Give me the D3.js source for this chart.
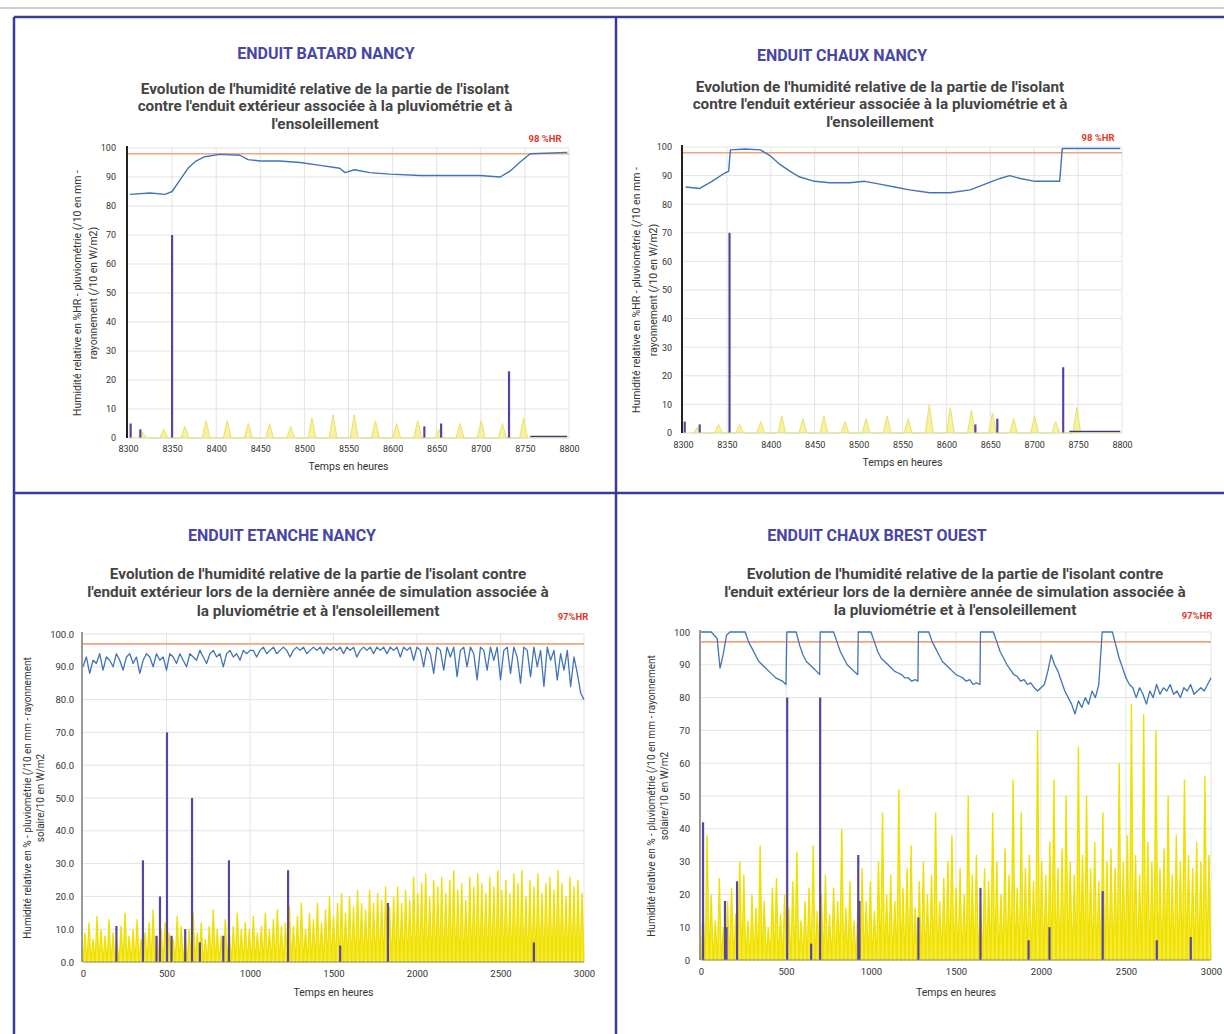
<!DOCTYPE html>
<html>
<head>
<meta charset="utf-8">
<script src="https://cdn.jsdelivr.net/npm/d3@7"></script>
<style>
  body { margin: 0; background: #fff; }
  svg { display: block; font-family: Roboto, "Liberation Sans", Arial, sans-serif; }
</style>
</head>
<body>
<svg id="chart" width="1224" height="1034"></svg>
<script>
// ---------- axis ticks ----------
const yTicks = [0, 10, 20, 30, 40, 50, 60, 70, 80, 90, 100];
const xTicksEnd = [8300, 8350, 8400, 8450, 8500, 8550, 8600, 8650, 8700, 8750, 8800];
const xTicksYear = [0, 500, 1000, 1500, 2000, 2500, 3000];

// ---------- ENDUIT BATARD NANCY (end of last year) ----------
// relative humidity [hour, %HR]
const batardHumidity = [[8302,84],[8325,84.5],[8342,84],[8350,85],[8359,89],[8368,93],[8377,95.5],[8387,97],
  [8404,97.8],[8427,97.5],[8436,96],[8450,95.5],[8472,95.5],[8495,95],[8518,94],[8540,93],[8546,91.5],
  [8557,92.5],[8574,91.5],[8597,91],[8631,90.5],[8665,90.5],[8699,90.5],[8722,90],[8733,92],[8744,95],
  [8756,98],[8798,98.5]];
// rainfall /10 [hour, value]
const batardRain = [[8303,5],[8314,3],[8350,70],[8636,4],[8655,5],[8732,23]];
// daily solar radiation peaks /10, from day 346
const batardSunPeaks = [2,3,4,6,6,5,5,4,7,8,8,6,5,6,3,5,6,5,7];
const batardTail = [[8756,0.5],[8798,0.5]];

// ---------- ENDUIT CHAUX NANCY (end of last year) ----------
const chauxHumidity = [[8303,86],[8319,85.5],[8333,88],[8348,91],[8352,91.5],[8354,99],[8371,99.3],[8388,99],
  [8399,97],[8410,94],[8422,91.5],[8433,89.5],[8450,88],[8467,87.5],[8490,87.5],[8507,88],[8524,87],
  [8541,86],[8558,85],[8581,84],[8604,84],[8627,85],[8644,87],[8661,89],[8672,90],[8684,89],[8701,88],
  [8729,88],[8732,99.5],[8798,99.5]];
const chauxRain = [[8302,4],[8319,3],[8353,70],[8633,3],[8658,5],[8733,23]];
const chauxSunPeaks = [2,3,3,4,6,5,6,4,5,6,5,10,9,8,7,5,6,4,9];
const chauxTail = [[8740,0.5],[8798,0.5]];

// ---------- ENDUIT ETANCHE NANCY (first 3000 h), humidity every 20 h ----------
const etancheHumidityStep = 20;
const etancheHumidity = [
  90,93,88,92,91,94,89,93,92,90, 94,92,89,93,94,91,93,88,92,94,
  93,90,94,92,93,89,94,93,91,94, 92,90,94,93,92,95,93,91,94,95,
  93,94,90,94,95,93,94,92,95,94, 95,
  95,93,95,96,94,95,96,94,95,96, 95,93,95,96,95,96,94,95,96,95,
  96,94,96,95,96,95,96,94,96,95, 96,93,95,96,95,96,94,96,95,96,
  94,96,95,96,93,96,95,96,92,96,
  95,90,96,94,88,96,95,89,96,93, 96,87,95,96,90,96,94,86,96,95,
  89,96,92,96,86,95,96,88,96,93, 85,96,95,87,96,90,95,84,96,92,
  95,86,94,89,95,84,93,88,82,80];
const etancheRain = [[200,11],[359,31],[440,8],[461,20],[503,70],[530,8],[612,10],[653,50],[700,6],
  [840,8],[874,31],[1228,28],[1540,5],[1826,18],[2700,6]];
const etancheSunPeaks = [
  9,12,7,14,10,8,13,9,6,11,15,8,10,13,7,9,12,16,8,10,
  12,9,7,14,11,8,10,15,9,12,7,11,16,10,8,13,9,11,15,10,
  12,10,14,9,11,15,10,13,16,11,12,17,11,14,18,10,15,13,18,12,
  16,20,14,18,21,15,20,17,22,18,16,22,18,21,19,23,17,20,23,18,
  22,19,26,21,24,27,20,25,23,26,21,25,28,22,24,19,26,23,27,24,
  21,26,23,28,22,25,21,27,24,28,20,25,23,27,21,24,26,22,28,24,20,26,23,25,21];

// ---------- ENDUIT CHAUX BREST OUEST (first 3000 h) ----------
const brestHumidity = [[0,100],[60,100],[95,98],[112,89],[130,93],[150,99],[170,100],[260,100],[280,97],
  [300,95],[320,93],[340,91],[360,90],[380,89],[400,88],[420,87],[440,86],[460,85.5],[480,85],[500,84],
  [505,100],[560,100],[580,96],[600,93],[620,91],[640,90],[660,89],[680,88],[698,87],[701,100],[780,100],
  [800,97],[820,94],[840,92],[860,90],[880,89],[900,88],[922,87],[925,100],[1000,100],[1020,97],[1040,94],
  [1060,92],[1080,91],[1100,90],[1120,89],[1140,88],[1160,87.5],[1180,87],[1200,86],[1220,86],[1240,85],
  [1260,85.5],[1276,85],[1279,100],[1340,100],[1360,97],[1380,95],[1400,93],[1420,91],[1440,90],[1460,89],
  [1480,88],[1500,87],[1520,86.5],[1540,86],[1560,85],[1580,85.5],[1600,84],[1620,84.5],[1641,84],
  [1644,100],[1720,100],[1740,97],[1760,94],[1780,92],[1800,90],[1820,88.5],[1840,87],[1860,86.5],
  [1880,85],[1900,85.5],[1920,84],[1940,84.5],[1960,83],[1980,82],[2000,83],[2020,84],[2040,88],[2060,93],
  [2080,90],[2100,88],[2120,85],[2140,82],[2160,80],[2180,78],[2200,75],[2220,79],[2240,77],[2260,80],
  [2280,78],[2300,82],[2320,80],[2340,84],[2360,100],[2420,100],[2440,96],[2460,92],[2480,89],[2500,86],
  [2520,84],[2540,83],[2560,80],[2580,83],[2600,81],[2620,78],[2640,82],[2660,80],[2680,84],[2700,81],
  [2720,83],[2740,82],[2760,84],[2780,81],[2800,82],[2820,80],[2840,83],[2860,82],[2880,84],[2900,81],
  [2920,82],[2940,83],[2960,82],[2980,84],[3000,86]];
const brestRain = [[12,42],[141,18],[150,10],[212,24],[507,80],[648,5],[701,80],[925,32],[932,18],
  [1279,13],[1644,22],[1927,6],[2050,10],[2363,21],[2681,6],[2881,7]];
const brestSunPeaks = [
  15,38,20,12,25,10,18,22,14,30, 26,12,20,16,35,18,10,22,25,14,
  20,16,24,33,12,18,22,35,15,20, 26,14,22,18,40,16,24,12,20,28,
  18,24,15,30,45,20,26,18,52,22, 28,35,16,24,30,20,26,45,18,25,
  30,38,22,28,20,50,26,32,18,28, 24,45,30,20,34,26,55,22,45,28,
  32,24,70,30,26,36,55,28,34,50, 30,26,65,32,50,28,36,24,45,30,
  34,28,60,30,38,78,32,26,75,36, 30,70,28,34,50,26,38,30,55,32,
  28,36,30,56,32];

const subtitleShort = ["Evolution de l'humidité relative de la partie de l'isolant",
  "contre l'enduit extérieur associée à la pluviométrie et à", "l'ensoleillement"];
const subtitleLong = ["Evolution de l'humidité relative de la partie de l'isolant contre",
  "l'enduit extérieur lors de la dernière année de simulation associée à",
  "la pluviométrie et à l'ensoleillement"];
const yLabelShort = ["Humidité relative en %HR - pluviométrie (/10 en mm -", "rayonnement (/10 en W/m2)"];
const yLabelLong = ["Humidité relative en % - pluviométrie (/10 en mm - rayonnement", "solaire/10 en W/m2"];

const svg = d3.select("#chart");

// page frame
svg.append("line").attr("x1", 0).attr("x2", 1224).attr("y1", 8).attr("y2", 8)
  .attr("stroke", "#cfcfcf").attr("stroke-width", 2);
const frame = svg.append("g").attr("stroke", "#3b3b96").attr("stroke-width", 2.5);
frame.append("line").attr("x1", 14).attr("x2", 1224).attr("y1", 17).attr("y2", 17);
frame.append("line").attr("x1", 14).attr("x2", 14).attr("y1", 17).attr("y2", 1034);
frame.append("line").attr("x1", 616).attr("x2", 616).attr("y1", 17).attr("y2", 1034);
frame.append("line").attr("x1", 14).attr("x2", 1224).attr("y1", 493).attr("y2", 493);

const panels = [
  { title: "ENDUIT BATARD NANCY", titleAt: [326, 53], sub: subtitleShort, subX: 325, subY: [89, 106, 124],
    box: { l: 128, r: 569, t: 148, b: 438 }, xDomain: [8300, 8800], xTicks: xTicksEnd, yFmt: d3.format("d"),
    humidity: batardHumidity, rain: batardRain, sunPeaks: batardSunPeaks, sunStartDay: 346, sunShape: [8, 12.5, 17],
    sunFill: "#f5f08e", sunStroke: "#e9e26a", sunWidth: 1, tail: batardTail, threshold: 98, thrLabel: "98 %HR",
    thrLabelAt: [545, 139], yLabel: yLabelShort, yLabelX: [77, 93], yLabelSize: 10.5, xTitleY: 466,
    yTickX: 116, xTickY: 451, tickSize: 9, strongAxis: true },
  { title: "ENDUIT CHAUX NANCY", titleAt: [842, 55], sub: subtitleShort, subX: 880, subY: [87, 104, 122],
    box: { l: 683, r: 1122, t: 147, b: 433 }, xDomain: [8300, 8800], xTicks: xTicksEnd, yFmt: d3.format("d"),
    humidity: chauxHumidity, rain: chauxRain, sunPeaks: chauxSunPeaks, sunStartDay: 346, sunShape: [8, 12.5, 17],
    sunFill: "#f5f08e", sunStroke: "#e9e26a", sunWidth: 1, tail: chauxTail, threshold: 98, thrLabel: "98 %HR",
    thrLabelAt: [1098, 138], yLabel: yLabelShort, yLabelX: [636, 653], yLabelSize: 10.5, xTitleY: 462,
    yTickX: 672, xTickY: 447, tickSize: 9, strongAxis: true },
  { title: "ENDUIT ETANCHE NANCY", titleAt: [282, 535], sub: subtitleLong, subX: 318, subY: [574, 592, 611],
    box: { l: 83, r: 584, t: 634, b: 962 }, xDomain: [0, 3000], xTicks: xTicksYear, yFmt: d3.format(".1f"),
    humidity: etancheHumidity.map((v, i) => [i * etancheHumidityStep, v]), rain: etancheRain,
    sunPeaks: etancheSunPeaks, sunStartDay: 0, sunShape: [1, 12, 23],
    sunFill: "#f4e71a", sunStroke: "#efe000", sunWidth: 1.4, tail: null, threshold: 97, thrLabel: "97%HR",
    thrLabelAt: [573, 617], yLabel: yLabelLong, yLabelX: [27, 40], yLabelSize: 10, xTitleY: 992,
    yTickX: 74, xTickY: 975, tickSize: 9.5, strongAxis: false },
  { title: "ENDUIT CHAUX BREST OUEST", titleAt: [877, 535], sub: subtitleLong, subX: 955, subY: [574, 592, 610],
    box: { l: 701, r: 1211, t: 632, b: 960 }, xDomain: [0, 3000], xTicks: xTicksYear, yFmt: d3.format("d"),
    humidity: brestHumidity, rain: brestRain, sunPeaks: brestSunPeaks, sunStartDay: 0, sunShape: [1, 12, 23],
    sunFill: "#f4e71a", sunStroke: "#efe000", sunWidth: 1.4, tail: null, threshold: 97, thrLabel: "97%HR",
    thrLabelAt: [1197, 616], yLabel: yLabelLong, yLabelX: [651, 664], yLabelSize: 10, xTitleY: 992,
    yTickX: 690, xTickY: 973, tickSize: 9.5, strongAxis: false }
];

function drawPanel(p) {
  const g = svg.append("g");
  const b = p.box;
  const x = d3.scaleLinear().domain(p.xDomain).range([b.l, b.r]);
  const y = d3.scaleLinear().domain([0, 100]).range([b.b, b.t]);

  // titles
  g.append("text").attr("x", p.titleAt[0]).attr("y", p.titleAt[1]).attr("dy", "0.35em")
    .attr("text-anchor", "middle").attr("font-size", 16).attr("font-weight", 700)
    .attr("fill", "#4646a6").text(p.title);
  g.selectAll(".sub").data(p.sub).join("text")
    .attr("x", p.subX).attr("y", (d, i) => p.subY[i]).attr("dy", "0.35em")
    .attr("text-anchor", "middle").attr("font-size", 15.3).attr("font-weight", 700)
    .attr("fill", "#444").text(d => d);

  // grid
  g.append("g").selectAll("line").data(yTicks.slice(1)).join("line")
    .attr("x1", b.l).attr("x2", b.r).attr("y1", d => y(d)).attr("y2", d => y(d))
    .attr("stroke", "#e3e3e3").attr("stroke-width", 1);
  g.append("g").selectAll("line").data(p.xTicks.slice(1)).join("line")
    .attr("x1", d => x(d)).attr("x2", d => x(d)).attr("y1", b.t).attr("y2", b.b)
    .attr("stroke", "#e3e3e3").attr("stroke-width", 1);

  // solar radiation: one bump per day
  const sunPts = [];
  p.sunPeaks.forEach((v, i) => {
    const day = 24 * (p.sunStartDay + i);
    sunPts.push([day + p.sunShape[0], 0], [day + p.sunShape[1], v], [day + p.sunShape[2], 0]);
  });
  const sunArea = d3.area().x(d => x(d[0])).y0(y(0)).y1(d => y(d[1]));
  const sunLine = d3.line().x(d => x(d[0])).y(d => y(d[1]));
  g.append("path").attr("d", sunArea(sunPts)).attr("fill", p.sunFill).attr("opacity", 0.85);
  g.append("path").attr("d", sunLine(sunPts)).attr("fill", "none")
    .attr("stroke", p.sunStroke).attr("stroke-width", p.sunWidth);

  // threshold
  g.append("line").attr("x1", b.l).attr("x2", b.r).attr("y1", y(p.threshold)).attr("y2", y(p.threshold))
    .attr("stroke", "#f2a57c").attr("stroke-width", 1.6);
  g.append("text").attr("x", p.thrLabelAt[0]).attr("y", p.thrLabelAt[1]).attr("dy", "0.35em")
    .attr("text-anchor", "middle").attr("font-size", 9.5).attr("font-weight", 700)
    .attr("fill", "#e2372b").text(p.thrLabel);

  // rainfall
  g.append("g").selectAll("line").data(p.rain).join("line")
    .attr("x1", d => x(d[0])).attr("x2", d => x(d[0])).attr("y1", y(0)).attr("y2", d => y(d[1]))
    .attr("stroke", "#5a44a2").attr("stroke-width", 2.2);

  // humidity
  const hLine = d3.line().x(d => x(d[0])).y(d => y(d[1]));
  g.append("path").attr("d", hLine(p.humidity)).attr("fill", "none")
    .attr("stroke", "#4173bb").attr("stroke-width", p.strongAxis ? 1.4 : 1.3).attr("stroke-linejoin", "round");
  if (p.tail) {
    g.append("path").attr("d", hLine(p.tail)).attr("stroke", "#3a3f6e").attr("stroke-width", 1.6);
  }

  // axes
  g.append("line").attr("x1", b.l).attr("x2", b.r).attr("y1", b.b).attr("y2", b.b)
    .attr("stroke", p.strongAxis ? "#d8d8b0" : "#8a8a7a").attr("stroke-width", 1.2);
  g.append("line").attr("x1", b.l - 1).attr("x2", b.l - 1).attr("y1", b.t - 2).attr("y2", b.b)
    .attr("stroke", p.strongAxis ? "#222" : "#777").attr("stroke-width", p.strongAxis ? 2 : 1.5);

  const yAxis = d3.axisLeft(y).tickValues(yTicks).tickFormat(p.yFmt).tickSize(0).tickPadding(0);
  const ya = g.append("g").attr("transform", `translate(${p.yTickX},0)`).call(yAxis);
  ya.select(".domain").remove();
  ya.selectAll("text").attr("font-size", p.tickSize).attr("fill", "#333").attr("font-family", "Roboto, sans-serif");

  const xAxis = d3.axisBottom(x).tickValues(p.xTicks).tickFormat(d3.format("d")).tickSize(0).tickPadding(0);
  const xa = g.append("g").attr("transform", `translate(0,${p.xTickY - 5})`).call(xAxis);
  xa.select(".domain").remove();
  xa.selectAll("text").attr("font-size", p.tickSize).attr("fill", "#333").attr("font-family", "Roboto, sans-serif");

  g.append("text").attr("x", (b.l + b.r) / 2).attr("y", p.xTitleY).attr("dy", "0.35em")
    .attr("text-anchor", "middle").attr("font-size", 10.5).attr("fill", "#333").text("Temps en heures");

  // rotated y label
  const cy = (b.t + b.b) / 2;
  p.yLabel.forEach((t, i) => {
    g.append("text").attr("transform", `translate(${p.yLabelX[i]},${cy}) rotate(-90)`)
      .attr("dy", "0.35em").attr("text-anchor", "middle").attr("font-size", p.yLabelSize)
      .attr("fill", "#333").text(t);
  });
}

panels.forEach(drawPanel);
</script>
</body>
</html>
